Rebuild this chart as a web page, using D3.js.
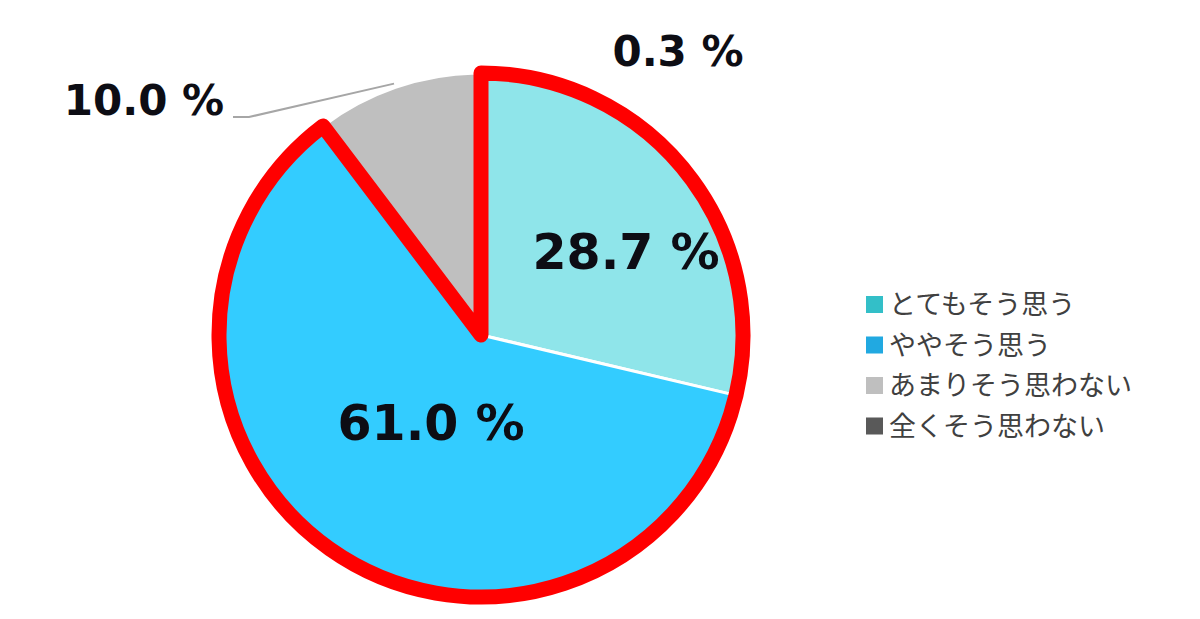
<!DOCTYPE html>
<html><head><meta charset="utf-8">
<script src="https://cdn.jsdelivr.net/npm/d3@7"></script>
<style>body{margin:0;background:#fff}svg{display:block}</style>
</head><body>
<svg id="c" width="1200" height="619"></svg>
<script>
const categories = ["とてもそう思う", "ややそう思う", "あまりそう思わない", "全くそう思わない"];
const values = [28.7, 61.0, 10.0, 0.3];
const labels = ["28.7 %", "61.0 %", "10.0 %", "0.3 %"];
const sliceColors = ["#8FE5EA", "#33CCFF", "#BFBFBF", "#595959"];
const legendColors = ["#33BFC8", "#21A9E1", "#BFBFBF", "#595959"];
const highlighted = [0, 1];

const svg = d3.select("#c");
const cx = 481, cy = 335, r = 262;
const g = svg.append("g").attr("transform", `translate(${cx},${cy})`);

const pie = d3.pie().sort(null).value(d => d);
const arcs = pie(values);
const arc = d3.arc().innerRadius(0).outerRadius(r);

g.selectAll("path.slice").data(arcs).join("path")
  .attr("class", "slice")
  .attr("d", arc)
  .attr("fill", (d, i) => sliceColors[i])
  .attr("stroke", "#fff").attr("stroke-width", 3).attr("stroke-linejoin", "round");

// red outline around the highlighted slices
const hlStart = arcs[highlighted[0]].startAngle;
const hlEnd = arcs[highlighted[highlighted.length - 1]].endAngle;
g.append("path")
  .attr("d", d3.arc().innerRadius(0).outerRadius(r)({startAngle: hlStart, endAngle: hlEnd}))
  .attr("fill", "none").attr("stroke", "#FF0000").attr("stroke-width", 15)
  .attr("stroke-linejoin", "round");

// labels
const labelPos = [
  {x: 626 - cx, y: 269 - cy, size: 49},
  {x: 431 - cx, y: 440 - cy, size: 49},
  {x: 144 - cx, y: 115 - cy, size: 42},
  {x: 678 - cx, y: 66 - cy, size: 42}
];
g.selectAll("text.lbl").data(arcs).join("text")
  .attr("class", "lbl")
  .attr("x", (d, i) => labelPos[i].x)
  .attr("y", (d, i) => labelPos[i].y)
  .attr("text-anchor", "middle")
  .attr("font-family", "DejaVu Sans, sans-serif")
  .attr("font-weight", "bold")
  .attr("font-size", (d, i) => labelPos[i].size)
  .attr("fill", "#0d0d14")
  .text((d, i) => labels[i]);

// leader line for the gray slice
const gd = arcs[2];
const mid = (gd.startAngle + gd.endAngle) / 2;
const ex = Math.sin(mid) * (r + 4), ey = -Math.cos(mid) * (r + 4);
g.append("polyline")
  .attr("points", `${233 - cx},${117 - cy} ${249 - cx},${117 - cy} ${ex},${ey}`)
  .attr("fill", "none").attr("stroke", "#A6A6A6").attr("stroke-width", 2);

// legend
const lg = svg.append("g").attr("transform", "translate(866,304)");
const rows = lg.selectAll("g").data(categories).join("g")
  .attr("transform", (d, i) => `translate(0,${i * 40.5})`);
rows.append("rect").attr("x", 0).attr("y", -8).attr("width", 17).attr("height", 17)
  .attr("fill", (d, i) => legendColors[i]);
rows.append("text").attr("x", 23).attr("y", 0).attr("dy", "0.38em")
  .attr("font-family", "Noto Sans CJK JP, sans-serif")
  .attr("font-size", 27).attr("fill", "#404040")
  .text(d => d);
</script>
</body></html>
